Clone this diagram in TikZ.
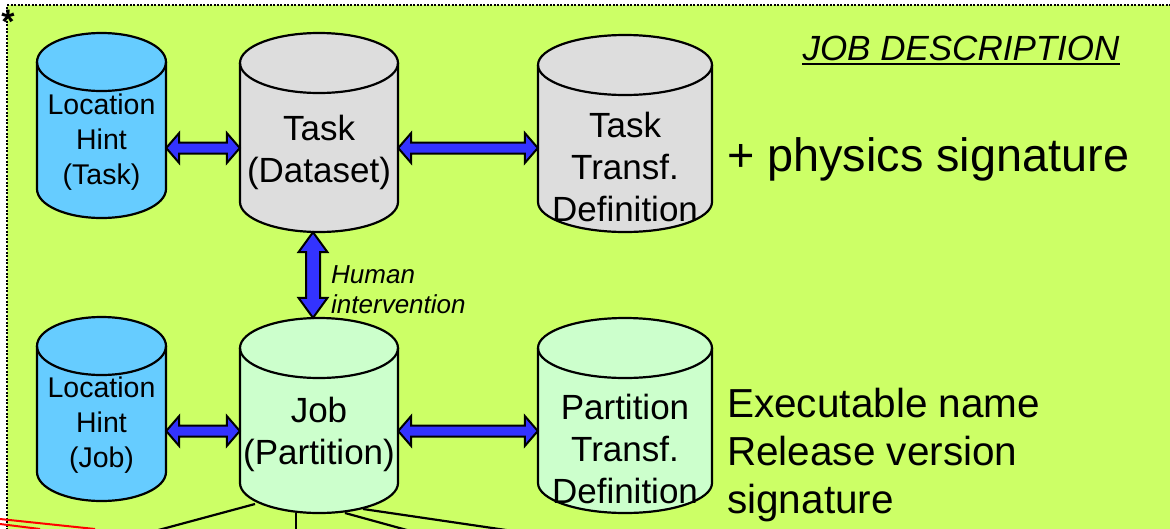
\documentclass[tikz,border=0pt]{standalone}
\usepackage{fontspec}
\setmainfont{Liberation Sans}
\usetikzlibrary{calc}
\definecolor{bgreen}{HTML}{CCFF66}
\definecolor{cylblue}{HTML}{66CCFF}
\definecolor{cylgray}{HTML}{DDDDDD}
\definecolor{cylgreen}{HTML}{CCFFCC}
\definecolor{arrblue}{HTML}{3333FF}
\tikzset{
  cylline/.style={draw=black, line width=2.2pt},
  fatarr/.style={fill=arrblue, draw=black, line width=2pt, line join=miter},
  lbl/.style={align=center, inner sep=0pt, font=\fontsize{28.5}{35}\selectfont},
  bigl/.style={align=center, inner sep=0pt, font=\fontsize{35}{42}\selectfont},
  conn/.style={draw=black, line width=2.2pt},
}
% #1 name, #2 cx, #3 cy, #4 rx, #5 half height, #6 ry, #7 fill
\newcommand{\mycyl}[7]{%
  \path[cylline, fill=#7] (#2-#4,#3-#5+#6) -- (#2-#4,#3+#5-#6)
     arc[start angle=180,end angle=360,x radius=#4pt,y radius=#6pt]
     -- (#2+#4,#3-#5+#6)
     arc[start angle=0,end angle=180,x radius=#4pt,y radius=#6pt] -- cycle;
  \draw[cylline] (#2-#4,#3-#5+#6) arc[start angle=180,end angle=360,x radius=#4pt,y radius=#6pt];
  \node[inner sep=0pt, minimum width={2*#4pt}, minimum height={2*#5pt}] (#1) at (#2,#3) {};
}
% #1 start, #2 end, #3 head length, #4 head half width, #5 shaft half width
\newcommand{\fatarrow}[5]{%
  \path[fatarr] let \p1=#1, \p2=#2, \n1={veclen(\x2-\x1,\y2-\y1)}, \n2={atan2(\y2-\y1,\x2-\x1)} in
    [shift={(\p1)}, rotate=\n2]
    (0pt,0pt) -- (#3,#4) -- (#3,#5) -- (\n1-#3,#5) -- (\n1-#3,#4) -- (\n1,0pt)
    -- (\n1-#3,-#4) -- (\n1-#3,-#5) -- (#3,-#5) -- (#3,-#4) -- cycle;
}
\begin{document}
\begin{tikzpicture}[x=1pt,y=-1pt]
\useasboundingbox (0,0) rectangle (1170,528);
\clip (0,0) rectangle (1170,528);
\fill[white] (0,0) rectangle (1170,528);
\fill[bgreen] (7,5) rectangle (1172,530);
\draw[line width=2pt, dash pattern=on 2pt off 1.5pt] (7,530) -- (7,5) -- (1172,5);
\node[inner sep=0pt, font=\fontsize{34}{34}\selectfont\bfseries] (star) at (8,22) {*};

% cylinders
\mycyl{loc1}{101.5}{125.5}{64.5}{92.5}{29}{cylblue}
\mycyl{task}{319}{132.5}{79}{99.5}{30}{cylgray}
\mycyl{ttd}{625}{133.5}{87}{98.5}{30}{cylgray}
\mycyl{loc2}{101.5}{409}{64.5}{92}{29}{cylblue}
\mycyl{job}{319}{415.5}{79}{97.5}{30}{cylgreen}
\mycyl{ptd}{625}{415.5}{87}{97.5}{30}{cylgreen}

% texts in cylinders
\node[lbl] (tloc1) at (101.5,142) {Location\\Hint\\(Task)};
\node[bigl] (ttask) at (319,152) {Task\\(Dataset)};
\node[bigl] (tttd) at (625,167) {Task\\Transf.\\Definition};
\node[lbl] (tloc2) at (101.5,425) {Location\\Hint\\(Job)};
\node[bigl] (tjob) at (319,434) {Job\\(Partition)};
\node[bigl] (tptd) at (625,449) {Partition\\Transf.\\Definition};

% arrows
\coordinate (r1) at (0,148);
\coordinate (r2) at (0,431);
\fatarrow{(loc1.east |- r1)}{(task.west |- r1)}{13pt}{15pt}{5.5pt}
\fatarrow{(task.east |- r1)}{(ttd.west |- r1)}{13pt}{15pt}{5.5pt}
\fatarrow{(loc2.east |- r2)}{(job.west |- r2)}{13pt}{15pt}{5.5pt}
\fatarrow{(job.east |- r2)}{(ptd.west |- r2)}{13pt}{15pt}{5.5pt}
\fatarrow{([xshift=-6pt]task.south)}{([xshift=-6pt]job.north)}{20pt}{14.5pt}{7pt}

% side texts
\node[anchor=west, inner sep=0pt, align=left, font=\fontsize{26}{30}\selectfont\itshape] (human) at (331,290) {Human\\intervention};
\node[anchor=base, inner sep=0pt, font=\fontsize{35}{42}\selectfont\itshape] (jd) at (961,60.5) {JOB DESCRIPTION};
\draw[line width=2pt] ([yshift=-3pt]jd.base west) -- ([yshift=-3pt]jd.base east);
\node[anchor=west, inner sep=0pt, font=\fontsize{46.8}{55}\selectfont] (phys) at (727,159) {+ physics signature};
\node[anchor=west, inner sep=0pt, align=left, font=\fontsize{40.5}{48}\selectfont] (exe) at (727,455) {Executable name\\Release version\\signature};

% lines from job downward
\coordinate (e1) at (140,535);
\coordinate (e2) at (296,535);
\coordinate (e3) at (425,535);
\coordinate (e4) at (540,535);
\draw[conn] ([shift={(-64,88.5)}]job.center) -- (e1);
\draw[conn] ([shift={(-23,97.5)}]job.center) -- (e2);
\draw[conn] ([shift={(26,97.5)}]job.center) -- (e3);
\draw[conn] ([shift={(44,93.5)}]job.center) -- (e4);

% red lines at bottom left
\draw[red, line width=2pt] (0,519) -- (95,529);
\draw[red, line width=2pt] (0,524) -- (40,529);
\end{tikzpicture}
\end{document}
